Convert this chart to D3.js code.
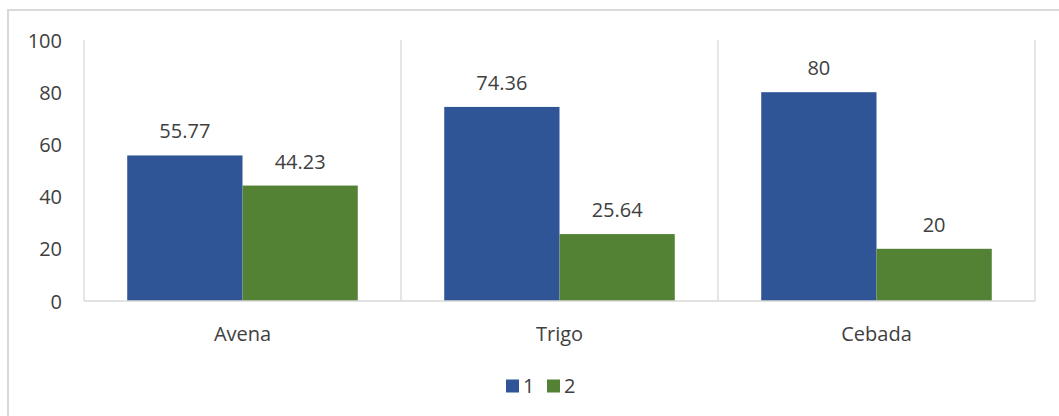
<!DOCTYPE html>
<html>
<head>
<meta charset="utf-8">
<script src="https://cdn.jsdelivr.net/npm/d3@7/dist/d3.min.js"></script>
<style>
  html, body { margin: 0; padding: 0; background: #fff; }
  svg { display: block; }
  text { font-family: "Open Sans", sans-serif; fill: #404040; }
</style>
</head>
<body>
<svg id="chart" width="1059" height="416"></svg>
<script>
// Chart data
const categories = ["Avena", "Trigo", "Cebada"];
const seriesNames = ["1", "2"];
const series1 = [55.77, 74.36, 80];
const series2 = [44.23, 25.64, 20];
const yTicks = [0, 20, 40, 60, 80, 100];
const colors = ["#2F5597", "#548235"];

const svg = d3.select("#chart");
const W = 1059, H = 416;
const plot = { left: 84, right: 1035, top: 40, bottom: 301 };

// Outer chart border
svg.append("rect")
  .attr("x", 8).attr("y", 10)
  .attr("width", W + 10).attr("height", H + 10)
  .attr("fill", "none").attr("stroke", "#d9d9d9").attr("stroke-width", 2);

const x0 = d3.scaleBand().domain(categories).range([plot.left, plot.right]).padding(0);
const gapRatio = 0.75;
const barW = x0.bandwidth() / (seriesNames.length + gapRatio);
const x1 = d3.scaleBand().domain(seriesNames)
  .range([barW * gapRatio / 2, barW * gapRatio / 2 + barW * seriesNames.length]).padding(0);
const y = d3.scaleLinear().domain([0, 100]).range([plot.bottom, plot.top]);

// Vertical separators between categories
const seps = categories.map(c => x0(c)).concat([plot.right]);
svg.append("g").selectAll("line").data(seps).join("line")
  .attr("x1", d => d).attr("x2", d => d)
  .attr("y1", y(100)).attr("y2", y(0))
  .attr("stroke", "#d9d9d9").attr("stroke-width", 1.3);

// Y axis labels
const yAxis = d3.axisLeft(y).tickValues(yTicks).tickSize(0).tickPadding(0);
const yg = svg.append("g").attr("transform", `translate(${plot.left - 22},0)`).call(yAxis);
yg.select(".domain").remove();
yg.selectAll("text").attr("font-size", 20).attr("font-family", "Open Sans, sans-serif")
  .attr("fill", "#404040").attr("dy", "0.35em");

// Bars
const rows = categories.map((c, i) => ({ cat: c, vals: [series1[i], series2[i]] }));
const groups = svg.append("g").selectAll("g").data(rows).join("g")
  .attr("transform", d => `translate(${x0(d.cat)},0)`);

groups.selectAll("rect").data(d => d.vals.map((v, k) => ({ k, v }))).join("rect")
  .attr("x", d => x1(seriesNames[d.k]))
  .attr("y", d => y(d.v))
  .attr("width", x1.bandwidth())
  .attr("height", d => y(0) - y(d.v))
  .attr("fill", d => colors[d.k]);

groups.selectAll("text.lbl").data(d => d.vals.map((v, k) => ({ k, v }))).join("text")
  .attr("class", "lbl")
  .attr("x", d => x1(seriesNames[d.k]) + x1.bandwidth() / 2)
  .attr("y", d => y(d.v) - 17)
  .attr("text-anchor", "middle")
  .attr("font-size", 20)
  .text(d => d.v);

// Baseline
svg.append("line")
  .attr("x1", plot.left).attr("x2", plot.right)
  .attr("y1", y(0)).attr("y2", y(0))
  .attr("stroke", "#d9d9d9").attr("stroke-width", 1.3);

// Category axis labels
const xAxis = d3.axisBottom(x0).tickSize(0).tickPadding(0);
const xg = svg.append("g").attr("transform", `translate(0,${plot.bottom + 33})`).call(xAxis);
xg.select(".domain").remove();
xg.selectAll("text").attr("font-size", 20).attr("font-family", "Open Sans, sans-serif")
  .attr("fill", "#404040").attr("dy", "0.35em");

// Legend
const legend = svg.append("g").attr("transform", "translate(506,386)");
const legendOffsets = [0, 41];
seriesNames.forEach((name, i) => {
  const g = legend.append("g").attr("transform", `translate(${legendOffsets[i]},0)`);
  g.append("rect").attr("x", 0).attr("y", -6.5).attr("width", 13).attr("height", 13).attr("fill", colors[i]);
  g.append("text").attr("x", 17).attr("y", 0).attr("dy", "0.35em").attr("font-size", 20).text(name);
});
</script>
</body>
</html>
